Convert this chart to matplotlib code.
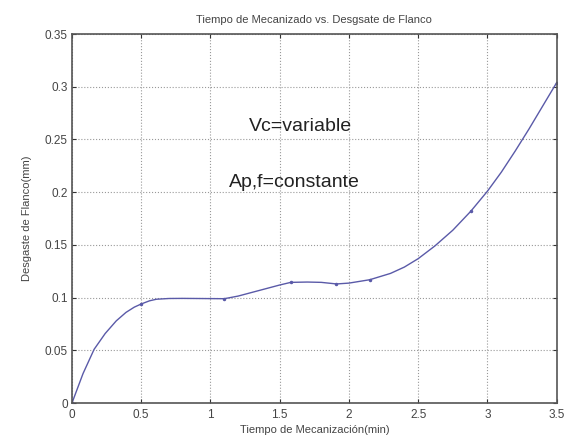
import matplotlib.pyplot as plt

plt.rcParams['font.family'] = ['Liberation Sans', 'DejaVu Sans']

# measured points (markers)
t_pts = [0.0, 0.5, 1.1, 1.58, 1.91, 2.15, 2.88, 3.5]
vb_pts = [0.0, 0.094, 0.099, 0.1145, 0.113, 0.117, 0.182, 0.304]

# fitted curve
t_curve = [0.0, 0.08, 0.16, 0.24, 0.32, 0.39, 0.45, 0.5, 0.56, 0.61, 0.7, 0.8, 0.9, 1.0, 1.1,
           1.2, 1.3, 1.4, 1.5, 1.58, 1.7, 1.8, 1.91, 2.0, 2.15, 2.3, 2.4, 2.5, 2.62, 2.75,
           2.88, 3.0, 3.1, 3.2, 3.3, 3.4, 3.5]
vb_curve = [0.0, 0.028, 0.051, 0.066, 0.078, 0.086, 0.091, 0.094, 0.097, 0.0985, 0.0992, 0.0993,
            0.0992, 0.0991, 0.099, 0.1015, 0.105, 0.1085, 0.112, 0.1145, 0.1148, 0.1145, 0.113,
            0.1138, 0.117, 0.123, 0.129, 0.137, 0.149, 0.164, 0.182, 0.201, 0.219, 0.239,
            0.260, 0.282, 0.304]

fig = plt.figure(figsize=(5.71, 4.42), dpi=100)
ax = fig.add_axes([0.126, 0.088, 0.849, 0.835])

ax.plot(t_curve, vb_curve, color='#5a5aa8', linewidth=1.0)
ax.plot(t_pts, vb_pts, '.', color='#5a5aa8', markersize=3)

ax.set_xlim(0, 3.5)
ax.set_ylim(0, 0.35)
ax.set_xticks([0, 0.5, 1, 1.5, 2, 2.5, 3, 3.5])
ax.set_xticklabels(['0', '0.5', '1', '1.5', '2', '2.5', '3', '3.5'])
ax.set_yticks([0, 0.05, 0.1, 0.15, 0.2, 0.25, 0.3, 0.35])
ax.set_yticklabels(['0', '0.05', '0.1', '0.15', '0.2', '0.25', '0.3', '0.35'])
ax.tick_params(direction='in', top=True, right=True, labelsize=8.5, length=3,
               colors='#333333', labelcolor='#444444')
ax.tick_params(axis='x', pad=4)
ax.tick_params(axis='y', pad=3)
ax.grid(True, linestyle=':', color='#999999', linewidth=0.8)
for s in ax.spines.values():
    s.set_color('#555555')
    s.set_linewidth(1.2)

ax.text(1.28, 0.262, 'Vc=variable', fontsize=14, va='center', color='#222222')
ax.text(1.13, 0.209, 'Ap,f=constante', fontsize=14, va='center', color='#222222')

ax.set_title('Tiempo de Mecanizado vs. Desgsate de Flanco', fontsize=8, color='#444444', pad=8)
ax.set_xlabel('Tiempo de Mecanización(min)', fontsize=8, color='#444444', labelpad=3)
ax.set_ylabel('Desgaste de Flanco(mm)', fontsize=8, color='#444444', labelpad=9)

fig.savefig('out.png', dpi=100)
